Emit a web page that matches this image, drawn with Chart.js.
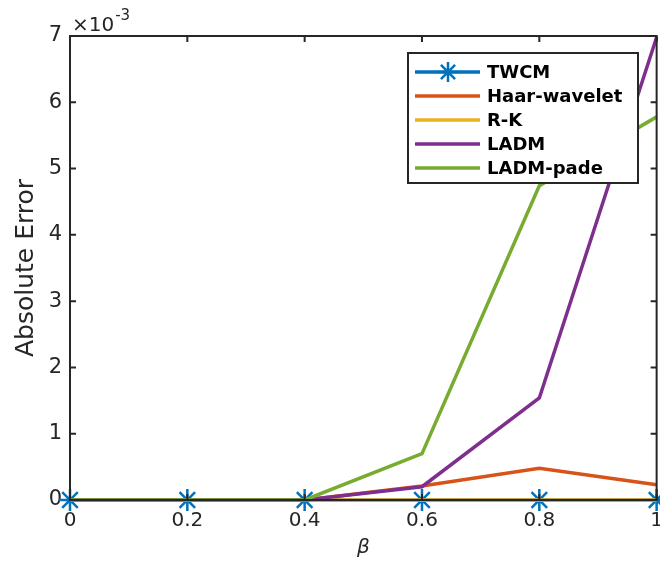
<!DOCTYPE html>
<html lang="en">
<head>
  <meta charset="UTF-8" />
  <title>Absolute Error vs beta</title>
  <script src="https://cdn.jsdelivr.net/npm/chart.js"></script>
  <style>
    html, body { margin: 0; padding: 0; background: #fff; overflow: hidden; }
    #wrap { width: 660px; height: 567px; position: relative; overflow: hidden; }
  </style>
</head>
<body>
  <div id="wrap"><canvas id="errChart" width="672" height="567"></canvas></div>

  <script>
    // values are in units of 10^-3
    const betaValues = [0, 0.2, 0.4, 0.6, 0.8, 1];
    const twcm      = [0, 0, 0, 0, 0, 0];
    const haar      = [0, 0, 0, 0.21, 0.48, 0.23];
    const rk        = [0, 0, 0, 0, 0, 0];
    const ladm      = [0, 0, 0, 0.2, 1.54, 6.98];
    const ladmPade  = [0, 0, 0, 0.7, 4.74, 5.78];
    const seriesNames = ['TWCM', 'Haar-wavelet', 'R-K', 'LADM', 'LADM-pade'];
    const xTicks = [0, 0.2, 0.4, 0.6, 0.8, 1];
    const yTicks = [0, 1, 2, 3, 4, 5, 6, 7];

    const colors = ['#0072BD', '#D95319', '#EDB120', '#7E2F8E', '#77AC30'];
    const axisColor = '#262626';
    const font = 'DejaVu Sans';

    const toPoints = ys => ys.map((y, i) => ({ x: betaValues[i], y: y }));

    const seriesData = [twcm, haar, rk, ladm, ladmPade];
    const datasets = seriesData.map((ys, i) => ({
      label: seriesNames[i],
      data: toPoints(ys),
      borderColor: colors[i],
      backgroundColor: colors[i],
      borderWidth: 3.5,
      pointStyle: i === 0 ? 'star' : 'circle',
      pointRadius: i === 0 ? 11 : 0,
      pointBorderWidth: 2.5,
      tension: 0,
      clip: false,
      order: 5 - i
    }));

    // box, inside ticks, legend, axis titles, exponent
    const decor = {
      id: 'decor',
      afterDatasetsDraw(chart) {
        const { ctx, chartArea: a, scales: { x, y } } = chart;
        ctx.save();
        ctx.strokeStyle = axisColor;
        ctx.lineWidth = 2;
        ctx.strokeRect(a.left, a.top, a.right - a.left, a.bottom - a.top);
        const tl = 6;
        ctx.beginPath();
        xTicks.forEach(v => {
          const px = x.getPixelForValue(v);
          ctx.moveTo(px, a.bottom); ctx.lineTo(px, a.bottom - tl);
          ctx.moveTo(px, a.top); ctx.lineTo(px, a.top + tl);
        });
        yTicks.forEach(v => {
          const py = y.getPixelForValue(v);
          ctx.moveTo(a.left, py); ctx.lineTo(a.left + tl, py);
          ctx.moveTo(a.right, py); ctx.lineTo(a.right - tl, py);
        });
        ctx.stroke();

        // legend
        const lx = 408, ly = 53, lw = 230, lh = 130;
        ctx.fillStyle = '#fff';
        ctx.fillRect(lx, ly, lw, lh);
        ctx.lineWidth = 2;
        ctx.strokeStyle = axisColor;
        ctx.strokeRect(lx, ly, lw, lh);
        ctx.font = 'bold 18px "' + font + '"';
        ctx.textBaseline = 'middle';
        ctx.textAlign = 'left';
        seriesNames.forEach((name, i) => {
          const ry = 72 + i * 24;
          ctx.strokeStyle = colors[i];
          ctx.lineWidth = 3.5;
          ctx.beginPath();
          ctx.moveTo(415, ry); ctx.lineTo(480, ry);
          ctx.stroke();
          if (i === 0) {
            ctx.lineWidth = 2.5;
            ctx.beginPath();
            const cx = 448, r = 10;
            for (let k = 0; k < 4; k++) {
              const ang = k * Math.PI / 4;
              ctx.moveTo(cx - r * Math.cos(ang), ry - r * Math.sin(ang));
              ctx.lineTo(cx + r * Math.cos(ang), ry + r * Math.sin(ang));
            }
            ctx.stroke();
          }
          ctx.fillStyle = '#000';
          ctx.fillText(name, 487, ry + 1);
        });

        // exponent label
        ctx.fillStyle = axisColor;
        ctx.textBaseline = 'alphabetic';
        ctx.font = '20px "' + font + '"';
        ctx.fillText('\u00d710', 72, 31);
        const w = ctx.measureText('\u00d710').width;
        ctx.font = '15px "' + font + '"';
        ctx.fillText('-3', 72 + w + 1, 20);

        // axis titles
        ctx.font = 'italic 20px "' + font + '"';
        ctx.textAlign = 'center';
        ctx.textBaseline = 'middle';
        ctx.fillText('\u03b2', (a.left + a.right) / 2, 548);
        ctx.save();
        ctx.translate(26, 268);
        ctx.rotate(-Math.PI / 2);
        ctx.font = '25px "' + font + '"';
        ctx.fillText('Absolute Error', 0, 0);
        ctx.restore();
        ctx.restore();
      }
    };

    new Chart(document.getElementById('errChart').getContext('2d'), {
      type: 'line',
      data: { datasets: datasets },
      options: {
        responsive: false,
        animation: false,
        layout: { padding: { top: 36, right: 0, left: 0, bottom: 0 } },
        plugins: { legend: { display: false }, tooltip: { enabled: false } },
        scales: {
          x: {
            type: 'linear',
            min: 0, max: 1,
            afterFit: s => { s.height = 67; },
            afterBuildTicks: s => { s.ticks = xTicks.map(v => ({ value: v })); },
            grid: { display: false, drawTicks: false },
            border: { display: false },
            ticks: {
              padding: 9,
              color: axisColor,
              font: { family: font, size: 20 },
              callback: v => String(v)
            }
          },
          y: {
            type: 'linear',
            min: 0, max: 7,
            afterFit: s => { s.width = 70; },
            afterBuildTicks: s => { s.ticks = yTicks.map(v => ({ value: v })); },
            grid: { display: false, drawTicks: false },
            border: { display: false },
            ticks: {
              padding: 8,
              color: axisColor,
              font: { family: font, size: 21 },
              callback: v => String(v)
            }
          }
        }
      },
      plugins: [decor]
    });
  </script>
</body>
</html>
